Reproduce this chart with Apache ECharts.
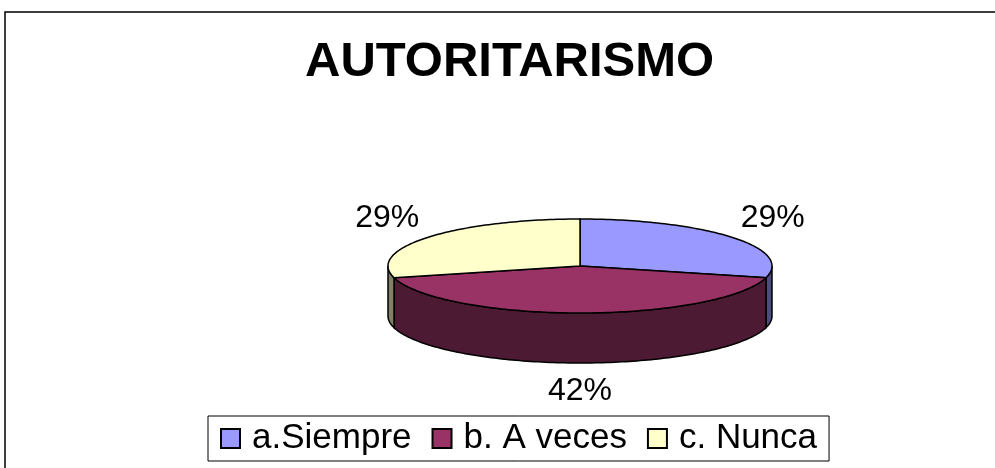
<!DOCTYPE html>
<html>
<head>
<meta charset="utf-8">
<script src="https://cdn.jsdelivr.net/npm/echarts@6/dist/echarts.min.js"></script>
<style>
  html, body { margin: 0; padding: 0; background: #fff; }
  #chart { width: 995px; height: 468px; }
</style>
</head>
<body>
<div id="chart"></div>
<script>
// datos del grafico
var categorias = ['a.Siempre', 'b. A veces', 'c. Nunca'];
var valores = [29, 42, 29];

var coloresTapa = ['#9999FF', '#993366', '#FFFFCC'];
var coloresLado = ['#4D4D80', '#4C1A33', '#808066'];

// geometria de la torta 3d
var CX = 580, CY = 266, RX = 192, RY = 47, ALTO = 50;
var FUENTE = '"Liberation Sans", Arial, sans-serif';

var total = valores.reduce(function(a, b) { return a + b; }, 0);

function arco(a0, a1, dy) {
    var pts = [];
    var n = Math.max(2, Math.ceil(Math.abs(a1 - a0) / 0.02));
    for (var k = 0; k <= n; k++) {
        var a = a0 + (a1 - a0) * k / n;
        pts.push([CX + RX * Math.cos(a), CY + dy + RY * Math.sin(a)]);
    }
    return pts;
}

function renderTorta(params, api) {
    var i = params.seriesIndex;
    var antes = 0;
    for (var j = 0; j < i; j++) antes += valores[j];
    var v = api.value(0);
    var a0 = -Math.PI / 2 + 2 * Math.PI * antes / total;
    var a1 = a0 + 2 * Math.PI * v / total;

    var hijos = [];

    // lado frontal
    var s = Math.max(a0, 0), e = Math.min(a1, Math.PI);
    if (s < e) {
        var pared = arco(s, e, 0).concat(arco(e, s, ALTO));
        hijos.push({
            type: 'polygon',
            z2: 1,
            shape: { points: pared },
            style: { fill: coloresLado[i], stroke: '#000', lineWidth: 1.5 }
        });
    }

    // tapa
    hijos.push({
        type: 'polygon',
        z2: 10,
        shape: { points: [[CX, CY]].concat(arco(a0, a1, 0)) },
        style: { fill: coloresTapa[i], stroke: '#000', lineWidth: 1.5 }
    });

    // etiqueta
    var am = (a0 + a1) / 2;
    var sn = Math.sin(am);
    var lx = CX + 244 * Math.cos(am);
    var ly = CY + 78 * sn + (sn > 0.5 ? 47 : 0);
    hijos.push({
        type: 'text',
        z2: 20,
        style: {
            text: Math.round(v / total * 100) + '%',
            x: lx,
            y: ly,
            textAlign: 'center',
            textVerticalAlign: 'middle',
            fontSize: 32,
            fontFamily: FUENTE,
            fill: '#000'
        }
    });

    return { type: 'group', children: hijos };
}

var series = categorias.map(function(c, i) {
    return {
        type: 'custom',
        name: c,
        coordinateSystem: 'none',
        renderItem: renderTorta,
        data: [valores[i]],
        silent: true
    };
});

var chart = echarts.init(document.getElementById('chart'));
chart.setOption({
    animation: false,
    backgroundColor: '#fff',
    color: coloresTapa,
    title: {
        text: 'AUTORITARISMO',
        left: 305,
        top: 38,
        padding: 0,
        textStyle: {
            fontSize: 49,
            fontWeight: 'bold',
            fontFamily: FUENTE,
            color: '#000'
        }
    },
    legend: {
        left: 208,
        top: 416,
        orient: 'horizontal',
        padding: [5, 12],
        itemGap: 20,
        itemWidth: 19,
        itemHeight: 19,
        icon: 'rect',
        backgroundColor: '#fff',
        borderColor: '#000',
        borderWidth: 1,
        borderRadius: 0,
        selectedMode: false,
        itemStyle: { borderColor: '#000', borderWidth: 2 },
        textStyle: { fontSize: 35, fontFamily: FUENTE, color: '#000', padding: [0, 0, 0, 7] },
        data: categorias
    },
    graphic: [{
        type: 'rect',
        shape: { x: 5, y: 12, width: 1000, height: 480 },
        style: { fill: 'none', stroke: '#000', lineWidth: 1.5 },
        silent: true
    }],
    series: series
});
</script>
</body>
</html>
